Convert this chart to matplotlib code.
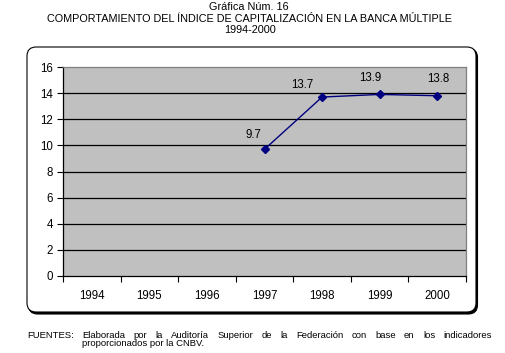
import matplotlib
matplotlib.use("Agg")
import matplotlib.pyplot as plt
from matplotlib.patches import FancyBboxPatch

plt.rcParams['font.family'] = ['Liberation Sans', 'DejaVu Sans']

years = ['1994', '1995', '1996', '1997', '1998', '1999', '2000']
data_years = ['1997', '1998', '1999', '2000']
values = [9.7, 13.7, 13.9, 13.8]
value_labels = ['9.7', '13.7', '13.9', '13.8']
yticks = [0, 2, 4, 6, 8, 10, 12, 14, 16]

title1 = 'Gráfica Núm. 16'
title2 = 'COMPORTAMIENTO DEL ÍNDICE DE CAPITALIZACIÓN EN LA BANCA MÚLTIPLE'
title3 = '1994-2000'
src_head = 'FUENTES:'
src_line1 = 'Elaborada por la Auditoría Superior de la Federación con base en los indicadores'
src_line2 = 'proporcionados por la CNBV.'

W, H = 506, 353
fig = plt.figure(figsize=(W / 100, H / 100), dpi=100)
fig.patch.set_facecolor('white')

def fx(px):
    return px / W

def fy(py):
    return 1 - py / H

# Rounded frame with shadow
shadow = FancyBboxPatch((fx(28.5), fy(314)), fx(449), (314 - 48.5) / H,
                        boxstyle='round,pad=0,rounding_size=0.018',
                        transform=fig.transFigure, facecolor='black',
                        edgecolor='black', linewidth=0.8, zorder=0,
                        mutation_aspect=W / H)
frame = FancyBboxPatch((fx(27), fy(312)), fx(449), (312 - 47) / H,
                       boxstyle='round,pad=0,rounding_size=0.018',
                       transform=fig.transFigure, facecolor='white',
                       edgecolor='black', linewidth=0.8, zorder=1,
                       mutation_aspect=W / H)
fig.patches.extend([shadow, frame])

ax = fig.add_axes([fx(63), fy(276), fx(403), (276 - 67) / H])
ax.set_zorder(2)
ax.set_facecolor('#C0C0C0')

x_all = list(range(len(years)))
x_data = [years.index(y) for y in data_years]

ax.set_xlim(-0.5, len(years) - 0.5)
ax.set_ylim(0, 16)
ax.set_yticks(yticks)
ax.set_xticks([i - 0.5 for i in range(len(years) + 1)], minor=False)
ax.set_xticklabels([])
ax.set_xticks(x_all, minor=True)
ax.set_xticklabels(years, minor=True)
ax.tick_params(axis='x', which='major', length=4, width=0.8, direction='out', color='black')
ax.tick_params(axis='x', which='minor', length=0, pad=10, labelsize=8.3)
ax.tick_params(axis='y', length=4, width=0.8, direction='out', pad=3, labelsize=8.3)

for y in yticks[1:-1]:
    ax.axhline(y, color='black', linewidth=0.9, zorder=1)

for s in ['left', 'bottom']:
    ax.spines[s].set_color('black')
    ax.spines[s].set_linewidth(0.9)
for s in ['top', 'right']:
    ax.spines[s].set_color('#808080')
    ax.spines[s].set_linewidth(0.9)

ax.plot(x_data, values, color='#000080', linewidth=1.0, marker='D',
        markersize=4.5, markerfacecolor='#000080', markeredgecolor='#000080',
        zorder=3, clip_on=False)

label_offsets = [(-8, 10), (-14, 9), (-7, 12), (1, 12)]
for xi, v, lab, (dx, dy) in zip(x_data, values, value_labels, label_offsets):
    ax.annotate(lab, (xi, v), xytext=(dx, dy), textcoords='offset points',
                ha='center', va='center', fontsize=8.3, zorder=4)

# Titles
fig.text(fx(249), fy(7), title1, ha='center', va='center', fontsize=7.8)
fig.text(fx(250), fy(18.5), title2, ha='center', va='center', fontsize=7.8)
fig.text(fx(250), fy(30), title3, ha='center', va='center', fontsize=7.8)

# Footer
fs = 6.8
fig.text(fx(27), fy(335.5), src_head, ha='left', va='center', fontsize=fs)
fig.canvas.draw()
renderer = fig.canvas.get_renderer()
words = src_line1.split(' ')
widths = []
for w in words:
    t = fig.text(0, 0, w, fontsize=fs)
    widths.append(t.get_window_extent(renderer).width)
    t.remove()
x0, x1 = 82, 492
gap = (x1 - x0 - sum(widths)) / (len(words) - 1)
xc = x0
for w, wd in zip(words, widths):
    fig.text(fx(xc), fy(335.5), w, ha='left', va='center', fontsize=fs)
    xc += wd + gap
fig.text(fx(82), fy(344), src_line2, ha='left', va='center', fontsize=fs)

fig.savefig('out.png', dpi=100, facecolor='white')
